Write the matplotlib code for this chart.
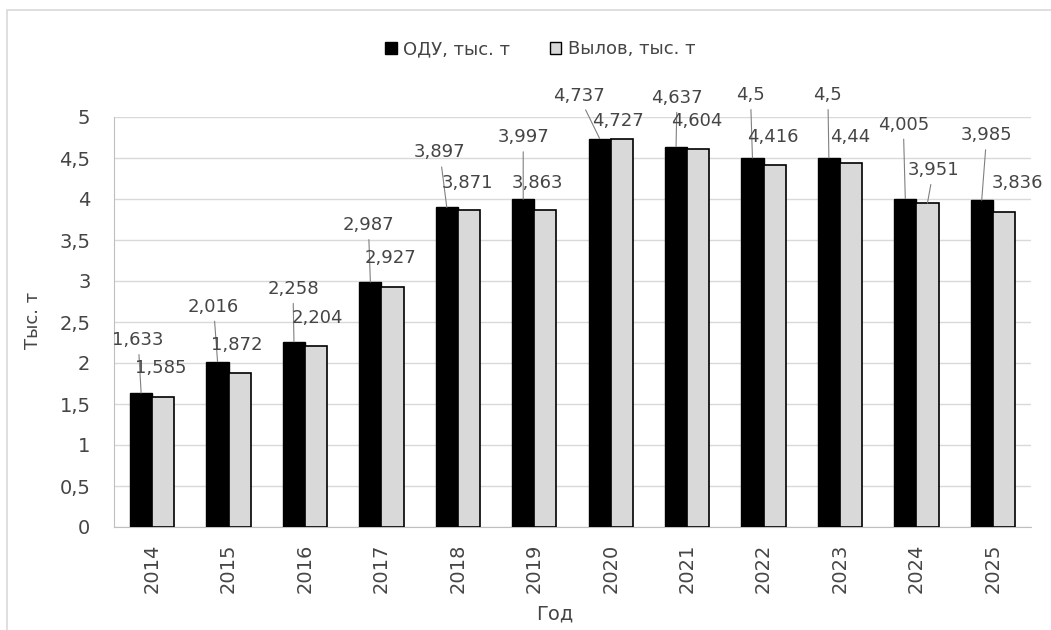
import numpy as np
import matplotlib.pyplot as plt
from matplotlib.patches import Patch, Rectangle

years = ['2014', '2015', '2016', '2017', '2018', '2019',
         '2020', '2021', '2022', '2023', '2024', '2025']
odu = [1.633, 2.016, 2.258, 2.987, 3.897, 3.997,
       4.737, 4.637, 4.5, 4.5, 4.005, 3.985]
catch = [1.585, 1.872, 2.204, 2.927, 3.871, 3.863,
         4.727, 4.604, 4.416, 4.44, 3.951, 3.836]
odu_labels = ['1,633', '2,016', '2,258', '2,987', '3,897', '3,997',
              '4,737', '4,637', '4,5', '4,5', '4,005', '3,985']
catch_labels = ['1,585', '1,872', '2,204', '2,927', '3,871', '3,863',
                '4,727', '4,604', '4,416', '4,44', '3,951', '3,836']

# label offsets from bar top, pixels (dx, dy)
odu_off = [(-3, 53), (-4, 55), (-1, 53), (-2, 57), (-7, 55), (0, 62),
           (-21, 43), (1, 49), (-2, 63), (-1, 63), (-2, 74), (5, 65)]
catch_off = [(-3, 29), (-3, 28), (1, 28), (-2, 29), (-2, 27), (-8, 27),
             (-4, 18), (-1, 28), (-2, 28), (-1, 26), (6, 33), (14, 29)]
catch_leader = [False] * 10 + [True, False]

txt = '#454545'
W, H = 1051, 630
fig = plt.figure(figsize=(W / 100, H / 100), dpi=100)
ax = fig.add_axes([114 / W, 1 - 527 / H, 917 / W, 410 / H])

x = np.arange(len(years))
bw = 0.29
ax.bar(x - bw / 2, odu, bw, color='black', edgecolor='black', lw=1, zorder=3)
ax.bar(x + bw / 2, catch, bw, color='#d9d9d9', edgecolor='black', lw=1.2, zorder=3)

ax.set_xlim(-0.5, len(years) - 0.5)
ax.set_ylim(0, 5)
ax.set_yticks(np.arange(0, 5.01, 0.5))
ax.set_yticklabels([('%g' % v).replace('.', ',') for v in np.arange(0, 5.01, 0.5)])
ax.set_xticks(x)
ax.set_xticklabels(years, rotation=90)
ax.tick_params(axis='y', length=0, pad=17, labelsize=14, labelcolor=txt)
ax.tick_params(axis='x', length=0, pad=12, labelsize=14, labelcolor=txt)
ax.yaxis.grid(True, color='#d9d9d9', lw=1, zorder=0)
ax.set_axisbelow(True)
for s in ['top', 'right']:
    ax.spines[s].set_visible(False)
ax.spines['left'].set_color('#bfbfbf')
ax.spines['bottom'].set_color('#bfbfbf')


def put_labels(xs, vals, labels, offs, leaders):
    for xi, v, lab, (dx, dy), lead in zip(xs, vals, labels, offs, leaders):
        arrow = dict(arrowstyle='-', color='#808080', lw=0.8, shrinkB=0) if lead else None
        ax.annotate(lab, xy=(xi, v), xytext=(dx, dy), textcoords='offset pixels',
                    ha='center', va='center', fontsize=13, color=txt,
                    arrowprops=arrow, annotation_clip=False, zorder=4)


put_labels(x - bw / 2, odu, odu_labels, odu_off, [True] * len(odu))
put_labels(x + bw / 2, catch, catch_labels, catch_off, catch_leader)

fig.text(33 / W, 1 - 320 / H, 'Тыс. т', rotation=90, ha='center', va='center',
         fontsize=13, color=txt)
fig.text(555 / W, 1 - 614 / H, 'Год', ha='center', va='center', fontsize=14, color=txt)

handles = [Patch(facecolor='black', edgecolor='black', label='ОДУ, тыс. т'),
           Patch(facecolor='#d9d9d9', edgecolor='black', label='Вылов, тыс. т')]
leg = fig.legend(handles=handles, loc='center', bbox_to_anchor=(540 / W, 1 - 49 / H),
                 ncol=2, frameon=False, fontsize=13, handlelength=0.65, handleheight=0.65,
                 handletextpad=0.35, columnspacing=2.2)
for t in leg.get_texts():
    t.set_color(txt)

fig.add_artist(Rectangle((7 / W, -0.05), 1.1, 1.05 - 10 / H, transform=fig.transFigure,
                         fill=False, edgecolor='#d9d9d9', lw=1.2))

fig.savefig('out.png', dpi=100)
